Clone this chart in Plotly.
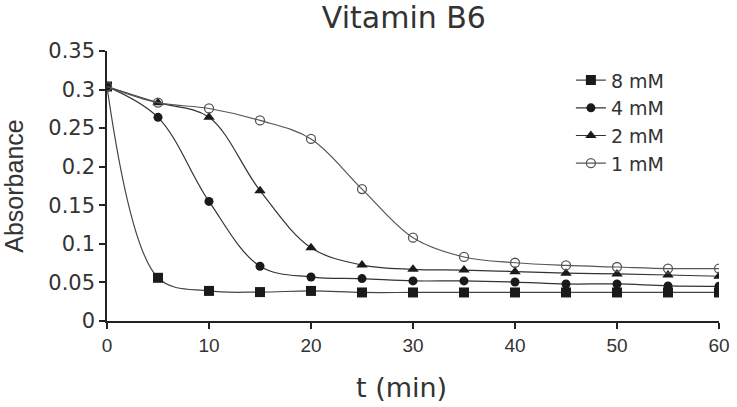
import plotly.graph_objects as go

t = [0, 5, 10, 15, 20, 25, 30, 35, 40, 45, 50, 55, 60]
series_names = ["8 mM", "4 mM", "2 mM", "1 mM"]
a_8mM = [0.304, 0.056, 0.039, 0.0375, 0.039, 0.037, 0.037, 0.037, 0.037, 0.037, 0.037, 0.037, 0.037]
a_4mM = [0.304, 0.264, 0.155, 0.071, 0.057, 0.055, 0.052, 0.052, 0.0505, 0.048, 0.048, 0.0455, 0.045]
a_2mM = [0.304, 0.283, 0.264, 0.169, 0.095, 0.0725, 0.067, 0.066, 0.064, 0.062, 0.061, 0.0596, 0.058]
a_1mM = [0.304, 0.283, 0.2755, 0.260, 0.236, 0.171, 0.108, 0.083, 0.0755, 0.072, 0.070, 0.068, 0.068]

x_ticks = [0, 10, 20, 30, 40, 50, 60]
y_ticks = [0, 0.05, 0.1, 0.15, 0.2, 0.25, 0.3, 0.35]
y_tick_labels = ["0", "0.05", "0.1", "0.15", "0.2", "0.25", "0.3", "0.35"]

styles = [
    dict(symbol="square", size=10, color="#1a1a1a", line=dict(width=0)),
    dict(symbol="circle", size=9, color="#1a1a1a", line=dict(width=0)),
    dict(symbol="triangle-up", size=10, color="#1a1a1a", line=dict(width=0)),
    dict(symbol="circle-open", size=9, color="#555555", line=dict(width=1.3)),
]
line_colors = ["#444444", "#333333", "#333333", "#555555"]

fig = go.Figure()
for name, vals, mk, lc in zip(series_names, [a_8mM, a_4mM, a_2mM, a_1mM], styles, line_colors):
    fig.add_trace(go.Scatter(
        x=t, y=vals, name=name, mode="lines+markers",
        line=dict(color=lc, width=1.2, shape="spline", smoothing=1.0),
        marker=mk,
    ))

wide = "DejaVu Sans, Arial, sans-serif"
narrow = "Liberation Sans, Arial, sans-serif"
fig.update_layout(
    width=737, height=407,
    margin=dict(l=107, r=18, t=51, b=86),
    paper_bgcolor="white", plot_bgcolor="white",
    font=dict(family=wide, color="#333333"),
    title=dict(text="Vitamin B6", x=0.548, xanchor="center", y=0.958, yanchor="middle",
               font=dict(size=30, color="#333333", family=wide), automargin=False),
    showlegend=True,
    legend=dict(x=0.758, y=0.962, xanchor="left", yanchor="top",
                font=dict(size=19, color="#333333", family=wide), bgcolor="rgba(0,0,0,0)",
                tracegroupgap=0, itemwidth=30),
    xaxis=dict(range=[0, 60], tickvals=x_ticks, showgrid=False, zeroline=False,
               showline=True, linecolor="#222222", linewidth=1.5, automargin=False,
               ticks="outside", ticklen=6, tickwidth=1.5, tickcolor="#222222",
               tickfont=dict(size=19, color="#333333", family=narrow)),
    yaxis=dict(range=[0, 0.35], tickvals=y_ticks, ticktext=y_tick_labels, showgrid=False, zeroline=False,
               showline=True, linecolor="#222222", linewidth=1.5, automargin=False,
               ticks="outside", ticklen=6, tickwidth=1.5, tickcolor="#222222",
               tickfont=dict(size=21, color="#333333", family=wide),
               title=dict(text="Absorbance", font=dict(size=25, color="#333333", family=narrow), standoff=19)),
    annotations=[dict(text="t (min)", xref="paper", yref="paper", x=0.482, y=-0.248,
                      xanchor="center", yanchor="middle", showarrow=False,
                      font=dict(size=27, color="#333333", family=wide))],
)

fig.write_html("out.html", config={"displayModeBar": False},
               post_script="document.body.style.margin='0';")
